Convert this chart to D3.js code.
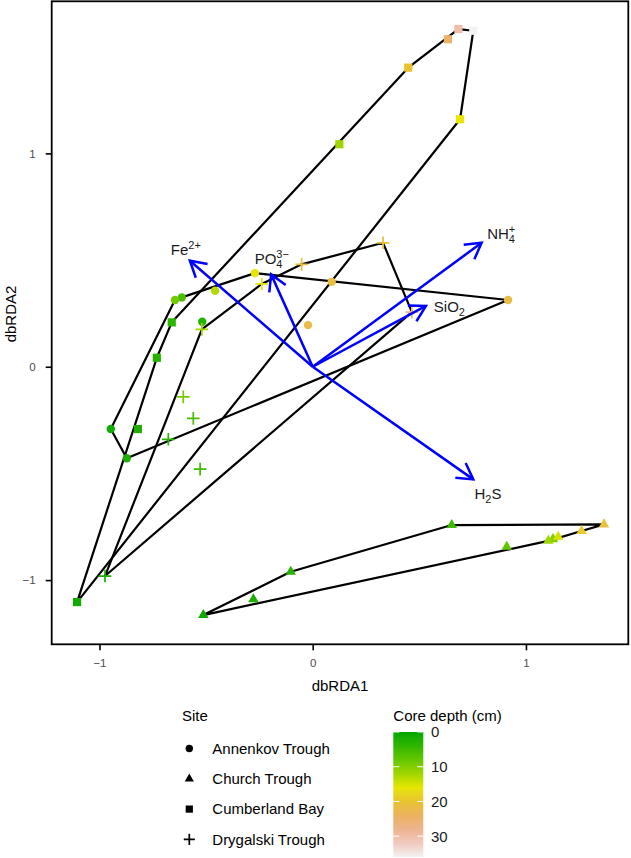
<!DOCTYPE html>
<html><head><meta charset="utf-8">
<script src="https://cdn.jsdelivr.net/npm/d3@7"></script>
<style>
body{margin:0;background:#fff}
svg{display:block}
text{font-family:"Liberation Sans",Arial,Helvetica,sans-serif}
</style>
</head><body>
<svg id="chart" width="631" height="858"></svg>
<script>
// ---------------- data ----------------
const sites = ["Annenkov Trough", "Church Trough", "Cumberland Bay", "Drygalski Trough"];

const annenkovX = [-0.947, -0.872, -0.518, -0.614, -0.646, -0.458, -0.271, 0.089, -0.022, 0.916];
const annenkovY = [-0.292, -0.429, 0.211, 0.325, 0.313, 0.356, 0.439, 0.398, 0.195, 0.313];
const annenkovDepth = [1, 2, 3, 6, 9, 13, 16, 21, 22, 22];

const churchX = [-0.513, -0.278, -0.103, 0.652, 0.910, 1.127, 1.105, 1.151, 1.261, 1.366];
const churchY = [-1.164, -1.090, -0.961, -0.742, -0.844, -0.808, -0.816, -0.797, -0.770, -0.739];
const churchDepth = [1, 2, 3, 5, 8, 10, 12, 15, 19, 21];

const cumberlandX = [-1.105, -0.820, -0.731, -0.661, 0.125, 0.691, 0.448, 0.634, 0.683, 0.753];
const cumberlandY = [-1.103, -0.292, 0.042, 0.208, 1.043, 1.160, 1.402, 1.535, 1.583, 1.575];
const cumberlandDepth = [1, 2, 3, 4, 12, 16, 20, 25, 30, 36];

const drygalskiX = [-0.974, -0.677, -0.528, -0.560, -0.607, -0.520, -0.239, -0.052, 0.330, 0.465];
const drygalskiY = [-0.981, -0.340, -0.480, -0.242, -0.141, 0.175, 0.388, 0.480, 0.581, 0.256];
const drygalskiDepth = [2, 4, 5, 6, 9, 12, 16, 21, 21, 28];

const envVars = ["Fe2+", "PO43-", "NH4+", "SiO2", "H2S"];
const arrowX = [-0.576, -0.195, 0.792, 0.531, 0.753];
const arrowY = [0.497, 0.433, 0.581, 0.285, -0.528];
const labelX = [-0.595, -0.192, 0.884, 0.641, 0.822];
const labelY = [0.524, 0.480, 0.597, 0.255, -0.620];
const labelParts = [
  [["Fe", "n"], ["2+", "sup"]],
  [["PO", "n"], ["4", "sub"], ["3\u2212", "sup"]],
  [["NH", "n"], ["4", "sub"], ["+", "sup"]],
  [["SiO", "n"], ["2", "sub"]],
  [["H", "n"], ["2", "sub"], ["S", "n"]]
];

const xTicks = [-1, 0, 1];
const yTicks = [-1, 0, 1];
const depthTicks = [0, 10, 20, 30];
const depthRange = [0, 36];
const terrainColors = ["#00A600", "#2DB600", "#63C600", "#A0D600", "#E6E600",
                       "#E8C32E", "#EBB25E", "#EDB48E", "#F0C9C0", "#F2F2F2"];

// ---------------- build ----------------
const siteData = [
  {site: sites[0], shape: "circle",   x: annenkovX,   y: annenkovY,   d: annenkovDepth},
  {site: sites[1], shape: "triangle", x: churchX,     y: churchY,     d: churchDepth},
  {site: sites[2], shape: "square",   x: cumberlandX, y: cumberlandY, d: cumberlandDepth},
  {site: sites[3], shape: "plus",     x: drygalskiX,  y: drygalskiY,  d: drygalskiDepth}
].map(s => ({...s, pts: s.x.map((v, i) => ({x: v, y: s.y[i], depth: s.d[i]}))}));

const svg = d3.select("#chart");
const FONT = 15;

const panel = {left: 51.7, right: 628.3, top: 1.3, bottom: 644.3};
const x = d3.scaleLinear().domain([-1.224, 1.480]).range([panel.left, panel.right]);
const y = d3.scaleLinear().domain([-1.301, 1.713]).range([panel.bottom, panel.top]);

const color = d3.scaleLinear()
  .domain(terrainColors.map((c, i) => depthRange[0] + i * (depthRange[1] - depthRange[0]) / (terrainColors.length - 1)))
  .range(terrainColors)
  .interpolate(d3.interpolateLab);

function shapePath(shape, scale) {
  const k = scale || 1;
  if (shape === "circle") return d3.symbol(d3.symbolCircle, Math.PI * Math.pow(4.2 * k, 2))();
  if (shape === "square") return d3.symbol(d3.symbolSquare, Math.pow(8.2 * k, 2))();
  if (shape === "triangle") return d3.symbol(d3.symbolTriangle, Math.sqrt(3) / 4 * Math.pow(10.5 * k, 2))();
  const h = 6.3 * k;
  return `M${-h},0H${h}M0,${-h}V${h}`;
}

// hulls
const gHull = svg.append("g");
siteData.forEach(s => {
  const hull = d3.polygonHull(s.pts.map(p => [x(p.x), y(p.y)]));
  gHull.append("path")
    .attr("d", "M" + hull.join("L") + "Z")
    .attr("fill", "none")
    .attr("stroke", "#000")
    .attr("stroke-width", 2.2)
    .attr("stroke-linejoin", "round");
});

// points
const gPts = svg.append("g");
siteData.forEach(s => {
  s.pts.forEach(p => {
    const c = color(p.depth);
    const el = gPts.append("path")
      .attr("d", shapePath(s.shape))
      .attr("transform", `translate(${x(p.x)},${y(p.y)})`);
    if (s.shape === "plus") el.attr("fill", "none").attr("stroke", c).attr("stroke-width", 1.7);
    else el.attr("fill", c);
  });
});

// arrows
const gArr = svg.append("g");
const ox = x(0), oy = y(0);
envVars.forEach((v, i) => {
  const tx = x(arrowX[i]), ty = y(arrowY[i]);
  gArr.append("line")
    .attr("x1", ox).attr("y1", oy).attr("x2", tx).attr("y2", ty)
    .attr("stroke", "#0000FF").attr("stroke-width", 2.5);
  const ang = Math.atan2(oy - ty, ox - tx);
  const L = 18, a = Math.PI / 6;
  const p1 = [tx + L * Math.cos(ang + a), ty + L * Math.sin(ang + a)];
  const p2 = [tx + L * Math.cos(ang - a), ty + L * Math.sin(ang - a)];
  gArr.append("path")
    .attr("d", `M${p1}L${tx},${ty}L${p2}`)
    .attr("fill", "none").attr("stroke", "#0000FF").attr("stroke-width", 2.5)
    .attr("stroke-linejoin", "miter");
});

// labels (one text element per label, sub/superscripts as tspans)
const gLab = svg.append("g");
const measure = svg.append("text").attr("visibility", "hidden");
function textWidth(txt, fs) {
  measure.attr("font-size", fs).text(txt);
  return measure.node().getComputedTextLength();
}
envVars.forEach((v, i) => {
  let cur = 0, scriptStart = null, scriptEnd = 0, prevType = "n";
  const laid = [];
  labelParts[i].forEach(([txt, type]) => {
    const fs = type === "n" ? FONT : 11;
    const dy = type === "sub" ? 4 : (type === "sup" ? -6 : 0);
    const stacked = type !== "n" && prevType !== "n" && type !== prevType;
    const px = stacked ? scriptStart : cur;
    const w = textWidth(txt, fs);
    if (type !== "n") {
      if (!stacked) { scriptStart = px; scriptEnd = px + w; }
      else scriptEnd = Math.max(scriptEnd, px + w);
      cur = scriptEnd;
    } else cur = px + w;
    laid.push({txt, fs, px, dy});
    prevType = type;
  });
  const x0 = x(labelX[i]) - cur / 2, y0 = y(labelY[i]);
  const t = gLab.append("text").attr("fill", "#1a1a1a").attr("font-size", FONT);
  laid.forEach(p => {
    t.append("tspan").attr("x", x0 + p.px).attr("y", y0 + p.dy)
      .attr("font-size", p.fs).text(p.txt);
  });
});
measure.remove();

// panel border
svg.append("rect")
  .attr("x", panel.left).attr("y", panel.top)
  .attr("width", panel.right - panel.left).attr("height", panel.bottom - panel.top)
  .attr("fill", "none").attr("stroke", "#000").attr("stroke-width", 1.8);

// axes
const fmt = d => d < 0 ? "\u2212" + Math.abs(d) : String(d);
const xAxis = svg.append("g").attr("transform", `translate(0,${panel.bottom})`)
  .call(d3.axisBottom(x).tickValues(xTicks).tickSize(6).tickPadding(5).tickFormat(fmt));
const yAxis = svg.append("g").attr("transform", `translate(${panel.left},0)`)
  .call(d3.axisLeft(y).tickValues(yTicks).tickSize(6).tickPadding(10).tickFormat(fmt));
[xAxis, yAxis].forEach(a => {
  a.select(".domain").remove();
  a.selectAll(".tick line").attr("stroke", "#000").attr("stroke-width", 1.6);
  a.selectAll(".tick text").attr("fill", "#4d4d4d").attr("font-size", 11.5)
    .attr("font-family", "'Liberation Sans',Arial,sans-serif");
});
xAxis.selectAll(".tick text").attr("dy", "1.05em");

svg.append("text").attr("x", (panel.left + panel.right) / 2).attr("y", 690.5)
  .attr("text-anchor", "middle").attr("font-size", FONT).attr("fill", "#000").text("dbRDA1");
svg.append("text").attr("transform", "translate(15.5,314) rotate(-90)")
  .attr("text-anchor", "middle").attr("font-size", FONT).attr("fill", "#000").text("dbRDA2");

// legend: Site
const gLeg = svg.append("g");
gLeg.append("text").attr("x", 182).attr("y", 720.7).attr("font-size", FONT).attr("fill", "#000").text("Site");
siteData.forEach((s, i) => {
  const cy = 748.5 + i * 30.3;
  const el = gLeg.append("path").attr("d", shapePath(s.shape, 0.88))
    .attr("transform", `translate(189.3,${cy})`);
  if (s.shape === "plus") el.attr("fill", "none").attr("stroke", "#000").attr("stroke-width", 1.7);
  else el.attr("fill", "#000");
  gLeg.append("text").attr("x", 212.3).attr("y", cy + 5.3).attr("font-size", FONT)
    .attr("fill", "#000").text(s.site);
});

// legend: colour bar
const cb = {x: 393.3, w: 30};
const cy = d3.scaleLinear().domain(depthRange).range([732, 857]);
gLeg.append("text").attr("x", 393.3).attr("y", 720.7).attr("font-size", FONT).attr("fill", "#000").text("Core depth (cm)");
const defs = svg.append("defs");
const grad = defs.append("linearGradient").attr("id", "depthGrad")
  .attr("x1", 0).attr("y1", 0).attr("x2", 0).attr("y2", 1);
d3.range(0, 37).forEach(i => {
  const dv = depthRange[0] + i * (depthRange[1] - depthRange[0]) / 36;
  grad.append("stop").attr("offset", (i / 36 * 100) + "%").attr("stop-color", color(dv));
});
gLeg.append("rect").attr("x", cb.x).attr("y", cy(depthRange[0]))
  .attr("width", cb.w).attr("height", cy(depthRange[1]) - cy(depthRange[0]))
  .attr("fill", "url(#depthGrad)");
depthTicks.forEach(t => {
  const ty = cy(t);
  gLeg.append("line").attr("x1", cb.x).attr("x2", cb.x + 6).attr("y1", ty).attr("y2", ty)
    .attr("stroke", "#fff").attr("stroke-width", 1);
  gLeg.append("line").attr("x1", cb.x + cb.w - 6).attr("x2", cb.x + cb.w).attr("y1", ty).attr("y2", ty)
    .attr("stroke", "#fff").attr("stroke-width", 1);
  gLeg.append("text").attr("x", 431).attr("y", ty + 5.4).attr("font-size", FONT)
    .attr("fill", "#1a1a1a").text(t);
});
</script>
</body></html>
